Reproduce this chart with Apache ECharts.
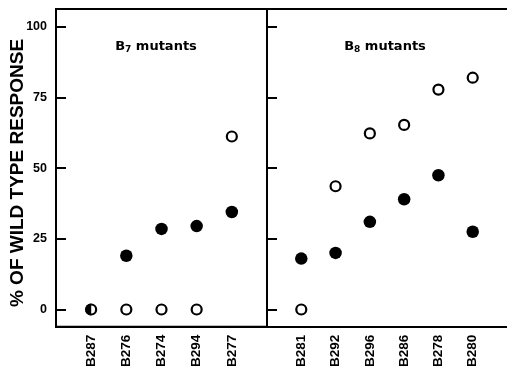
<!DOCTYPE html>
<html>
<head>
<meta charset="utf-8">
<script src="https://cdn.jsdelivr.net/npm/echarts@6/dist/echarts.min.js"></script>
<style>
html,body{margin:0;padding:0;background:#fff;}
#c{width:507px;height:370px;}
</style>
</head>
<body>
<div id="c"></div>
<script>
// ---- data ----
const leftCats = ['B287', 'B276', 'B274', 'B294', 'B277'];
const leftFilled = [0, 19, 28.5, 29.5, 34.5];
const leftOpen = [0, 0, 0, 0, 61.2];
const leftHalf = ['B287'];           // categories where filled and open coincide (half-filled marker)
const rightCats = ['B281', 'B292', 'B296', 'B286', 'B278', 'B280'];
const rightFilled = [18, 20, 31, 39, 47.5, 27.5];
const rightOpen = [0, 43.6, 62.3, 65.3, 77.8, 82];
const yTicks = [0, 25, 50, 75, 100];
const panelTitles = ['B{s|7} mutants', 'B{s|8} mutants'];
const yTitle = '% OF WILD TYPE RESPONSE';

// ---- build ----
const FONT = '"Liberation Sans", Arial, sans-serif';
const pad = c => [''].concat(c).concat(['']);
const halfPath = 'path://M10,0 A10,10 0 0,0 10,20 Z';
const LINE = {color: '#000', width: 2};

function pairs(cats, vals, skip) {
  return cats.map((c, i) => (skip && skip.indexOf(c) >= 0) ? null : [c, vals[i]]).filter(d => d);
}

const chart = echarts.init(document.getElementById('c'), null, {renderer: 'canvas'});

const yBase = (gi, showLabels) => ({
  type: 'value', gridIndex: gi, min: -6.1, max: 106.3,
  axisLine: {show: true, lineStyle: LINE},
  axisTick: {show: true, inside: true, length: 10, customValues: yTicks, lineStyle: LINE},
  axisLabel: {show: showLabels, customValues: yTicks, margin: 9, color: '#000',
    fontFamily: FONT, fontWeight: 'bold', fontSize: 12.5},
  splitLine: {show: false}
});

const xBase = (gi, cats, pos, labels) => ({
  type: 'category', gridIndex: gi, data: pad(cats), boundaryGap: false, position: pos,
  axisLine: {show: true, onZero: false, lineStyle: LINE}, axisTick: {show: false}, splitLine: {show: false},
  axisLabel: {show: labels, interval: 0, rotate: 90, margin: 8, color: '#000',
    fontFamily: FONT, fontWeight: 'bold', fontSize: 13.5}
});

const openStyle = {color: '#fff', borderColor: '#000', borderWidth: 2.2, opacity: 1};
const filledStyle = {color: '#000', opacity: 1};

const option = {
  animation: false,
  backgroundColor: '#fff',
  grid: [
    {left: 56, top: 9, width: 211, height: 319, show: true, borderColor: '#000', borderWidth: 2, backgroundColor: 'transparent'},
    {left: 267, top: 9, width: 245, height: 319, show: false}
  ],
  xAxis: [
    xBase(0, leftCats, 'bottom', true),
    xBase(1, rightCats, 'bottom', true),
    xBase(1, rightCats, 'top', false)
  ],
  yAxis: [yBase(0, true), yBase(1, false)],
  series: [
    {type: 'scatter', xAxisIndex: 0, yAxisIndex: 0, data: pairs(leftCats, leftOpen),
      symbol: 'circle', symbolSize: 10, itemStyle: openStyle, z: 2},
    {type: 'scatter', xAxisIndex: 0, yAxisIndex: 0, data: pairs(leftCats, leftFilled, leftHalf),
      symbol: 'circle', symbolSize: 12.5, itemStyle: filledStyle, z: 3},
    {type: 'scatter', xAxisIndex: 0, yAxisIndex: 0,
      data: leftHalf.map(c => [c, leftFilled[leftCats.indexOf(c)]]),
      symbol: halfPath, symbolSize: [6, 12], symbolOffset: [-3, 0], itemStyle: filledStyle, z: 4},
    {type: 'scatter', xAxisIndex: 1, yAxisIndex: 1, data: pairs(rightCats, rightOpen),
      symbol: 'circle', symbolSize: 10, itemStyle: openStyle, z: 2},
    {type: 'scatter', xAxisIndex: 1, yAxisIndex: 1, data: pairs(rightCats, rightFilled),
      symbol: 'circle', symbolSize: 12.5, itemStyle: filledStyle, z: 3}
  ],
  graphic: [
    {type: 'text', x: 18, y: 173, rotation: Math.PI / 2,
      style: {text: yTitle, align: 'center', verticalAlign: 'middle', fill: '#000',
        font: 'bold 19px ' + FONT}},
    {type: 'text', x: 156, y: 47,
      style: {text: panelTitles[0], align: 'center', verticalAlign: 'middle', fill: '#000',
        font: 'bold 13px "DejaVu Sans", sans-serif',
        rich: {s: {fontSize: 9, fontWeight: 'bold', fontFamily: '"DejaVu Sans", sans-serif', padding: [6, 0, 0, 0], fill: '#000'}}}},
    {type: 'text', x: 385, y: 47,
      style: {text: panelTitles[1], align: 'center', verticalAlign: 'middle', fill: '#000',
        font: 'bold 13px "DejaVu Sans", sans-serif',
        rich: {s: {fontSize: 9, fontWeight: 'bold', fontFamily: '"DejaVu Sans", sans-serif', padding: [6, 0, 0, 0], fill: '#000'}}}}
  ]
};
chart.setOption(option);
</script>
</body>
</html>
